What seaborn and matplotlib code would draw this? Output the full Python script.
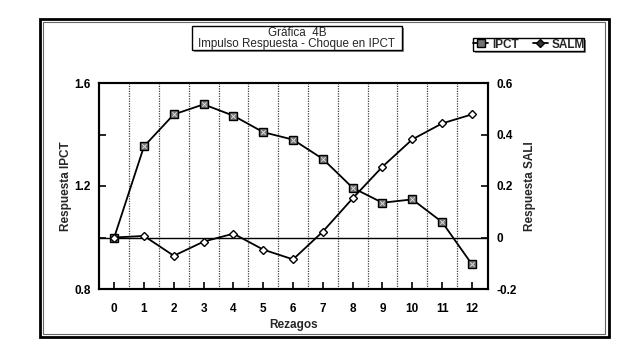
import numpy as np
import pandas as pd
import matplotlib
matplotlib.use("Agg")
import matplotlib.pyplot as plt
from matplotlib.patches import Rectangle
from matplotlib.lines import Line2D
import seaborn as sns

# ---- data ----
rezagos = list(range(13))
ipct = [1.00, 1.354, 1.478, 1.517, 1.473, 1.409, 1.380, 1.305, 1.193, 1.135, 1.148, 1.060, 0.896]
salm = [0.000, 0.006, -0.071, -0.016, 0.015, -0.047, -0.085, 0.023, 0.152, 0.275, 0.381, 0.443, 0.478]
x_ticks = list(range(13))
left_ticks = [0.8, 1.0, 1.2, 1.4, 1.6]
left_labels = ["0.8", "", "1.2", "", "1.6"]
right_ticks = [-0.2, 0.0, 0.2, 0.4, 0.6]
right_labels = ["-0.2", "0", "0.2", "0.4", "0.6"]
title1 = "Gráfica  4B"
title2 = "Impulso Respuesta - Choque en IPCT"
xlabel = "Rezagos"
ylabel_left = "Respuesta IPCT"
ylabel_right = "Respuesta SALI"
legend_names = ["IPCT", "SALM"]

df = pd.DataFrame({"Rezagos": rezagos, "IPCT": ipct, "SALM": salm})

sns.set_theme(style="white")
plt.rcParams["font.family"] = ["Liberation Sans", "DejaVu Sans"]

W, H = 642, 353
fig = plt.figure(figsize=(W / 100, H / 100), dpi=100)
fig.patch.set_facecolor("white")

def fx(px):
    return px / W

def fy(py):
    return 1 - py / H

ax = fig.add_axes([fx(99), fy(289), fx(488) - fx(99), fy(83) - fy(289)])
ax2 = ax.twinx()

# dotted separators and zero line
for v in np.arange(0.5, 12.0, 1.0):
    ax.axvline(v, color="0.25", ls=(0, (1, 1)), lw=0.9, zorder=1)
ax.axhline(1.0, color="black", lw=1.0, zorder=1)

sns.lineplot(data=df, x="Rezagos", y="IPCT", ax=ax, color="black", lw=1.3,
             marker="s", markersize=6, markerfacecolor="0.45",
             markeredgecolor="black", markeredgewidth=1.0, zorder=3)
sns.scatterplot(data=df, x="Rezagos", y="IPCT", ax=ax, marker="x", s=10,
                color="0.85", linewidth=0.7, zorder=4)
sns.lineplot(data=df, x="Rezagos", y="SALM", ax=ax2, color="black", lw=1.3,
             marker="D", markersize=4.3, markerfacecolor="white",
             markeredgecolor="black", markeredgewidth=1.0, zorder=3)

ax.set_xlim(-0.51, 12.54)
ax.set_ylim(0.8, 1.6)
ax2.set_ylim(-0.2, 0.6)

fs = 8.5
ax.set_xticks(x_ticks)
ax.set_xticklabels([str(t) for t in x_ticks], fontsize=fs, fontweight="bold")
ax.set_yticks(left_ticks)
ax.set_yticklabels(left_labels, fontsize=fs, fontweight="bold")
ax2.set_yticks(right_ticks)
ax2.set_yticklabels(right_labels, fontsize=fs, fontweight="bold")

ax.tick_params(axis="x", direction="in", length=5, width=1.2, pad=10, colors="black", bottom=True, top=False)
ax.tick_params(axis="y", direction="in", length=5, width=1.2, pad=6, colors="black", left=True)
ax2.tick_params(axis="y", direction="in", length=5, width=1.2, pad=6, colors="black", right=True)

ax.set_xlabel(xlabel, fontsize=fs, fontweight="bold", labelpad=3)
ax.set_ylabel(ylabel_left, fontsize=fs, fontweight="bold", labelpad=1.5)
ax2.set_ylabel(ylabel_right, fontsize=fs, fontweight="bold", labelpad=5)

for a in (ax, ax2):
    for s in a.spines.values():
        s.set_color("black")
        s.set_linewidth(1.5)
ax.patch.set_alpha(0)

# outer double frame
fig.patches.append(Rectangle((fx(40), fy(337)), fx(609) - fx(40), fy(19) - fy(337),
                             transform=fig.transFigure, fill=False, ec="black", lw=2.0))
fig.patches.append(Rectangle((fx(43.5), fy(334)), fx(605) - fx(43.5), fy(22) - fy(334),
                             transform=fig.transFigure, fill=False, ec="0.4", lw=0.8))

# title box with shadow
fig.patches.append(Rectangle((fx(194), fy(52)), fx(404) - fx(194), fy(28) - fy(52),
                             transform=fig.transFigure, fc="0.55", ec="none", zorder=5))
fig.patches.append(Rectangle((fx(192), fy(50)), fx(402) - fx(192), fy(26) - fy(50),
                             transform=fig.transFigure, fc="white", ec="black", lw=1.0, zorder=6))
fig.text(fx(297), fy(33.0), title1, ha="center", va="center", fontsize=8.4, zorder=7)
fig.text(fx(297), fy(44.2), title2, ha="center", va="center", fontsize=8.4, zorder=7)

# legend box with shadow
fig.patches.append(Rectangle((fx(475), fy(53)), fx(586) - fx(475), fy(40) - fy(53),
                             transform=fig.transFigure, fc="0.55", ec="none", zorder=5))
fig.patches.append(Rectangle((fx(473), fy(51)), fx(584) - fx(473), fy(38) - fy(51),
                             transform=fig.transFigure, fc="white", ec="black", lw=1.0, zorder=6))
h1 = Line2D([], [], color="black", lw=1.3, marker="s", markersize=6,
            markerfacecolor="0.45", markeredgecolor="black")
h2 = Line2D([], [], color="black", lw=1.3, marker="D", markersize=4.3,
            markerfacecolor="0.2", markeredgecolor="black")
leg = fig.legend([h1, h2], legend_names, loc="center", bbox_to_anchor=(fx(529), fy(44.5)),
                 ncol=2, frameon=False, fontsize=8.5, handlelength=1.3, handletextpad=0.3,
                 columnspacing=1.2, borderpad=0.0)
for t in leg.get_texts():
    t.set_fontweight("bold")
leg.set_zorder(8)

fig.savefig("out.png", dpi=100, facecolor="white")
